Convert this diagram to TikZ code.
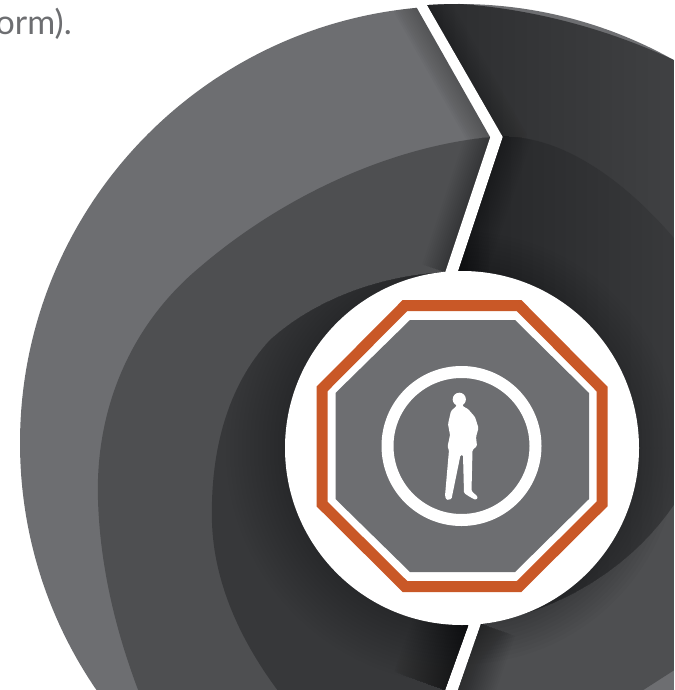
\documentclass[tikz,border=0pt]{standalone}
\usepackage{fontspec}
\setmainfont{Lato}
\definecolor{lightgrey}{HTML}{6D6E71}
\definecolor{midgrey}{HTML}{4E4F51}
\definecolor{innergrey}{HTML}{37383A}
\definecolor{nearblack}{HTML}{1B1C1D}
\definecolor{toplo}{HTML}{2B2C2E}
\definecolor{tophi}{HTML}{414244}
\definecolor{darklo}{HTML}{232426}
\definecolor{darkmidc}{HTML}{28292B}
\definecolor{darkhi}{HTML}{3A3B3D}
\definecolor{rust}{HTML}{C95827}
\tikzset{
  labeltext/.style={text=lightgrey,font=\fontsize{34}{40}\selectfont,inner sep=0pt,anchor=base east},
  ringline/.style={draw=white,line width=12pt,fill=lightgrey},
  personfill/.style={fill=white,draw=none},
  softline/.style={black,opacity=.02,line join=miter}
}
% shadow parallel to a path: #1 = largest width, #2 = path
\newcommand{\edgefade}[2]{\foreach \w in {4,8,...,#1}{\draw[softline,line width=\w pt] #2;}}
% halo round the hub: #1 = last radius, #2 = opacity per step
\newcommand{\hubhalo}[2]{\foreach \r in {180,184,...,#1}{\fill[black,opacity=#2] (hubc) circle (\r);}}
\newcommand{\leftdivider}{(412.3,0) -- (490,137) -- (445,272)}
\newcommand{\lowleftdivider}{(468,626) -- (445,690)}
\newcommand{\rightdivider}{(424.3,0) -- (503,137) -- (458,272)}
\newcommand{\lowrightdivider}{(481,624) -- (458,690)}
\newcommand{\midlayer}{(492,137) .. controls (400,145) and (290,190) .. (200,267)
  .. controls (130,325) and (95,410) .. (98,500) .. controls (100,565) and (115,630) .. (140,695)
  -- (500,695) -- (500,137) -- cycle}
\newcommand{\innerlayer}{(450,272) .. controls (390,274) and (320,295) .. (270,340)
  .. controls (228,385) and (210,450) .. (212,523) .. controls (214,580) and (238,640) .. (285,700)
  -- (490,700) -- (490,272) -- cycle}
\newcommand{\uppertop}{(424,3) .. controls (500,2) and (600,22) .. (690,68) -- (690,420) -- (424,420) -- cycle}
\newcommand{\darkmid}{(503,137) .. controls (560,135) and (630,180) .. (690,258)
  -- (690,478) .. controls (650,555) and (570,612) .. (470,626) -- (440,420) -- (440,137) -- cycle}
\newcommand{\lowgrey}{(440,400) -- (690,400) -- (690,660) -- (620,705) -- (440,705) -- cycle}
\begin{document}
\begin{tikzpicture}[x=1pt,y=-1pt]
\useasboundingbox (0,0) rectangle (674,690);
\coordinate (hubc) at (462,448);
% ---- left half
\begin{scope}
\clip (457,443) circle (437);
\clip (0,0) -- (412.3,0) -- (490,137) -- (445,272) -- (470,450) -- (468,626) -- (445,690) -- (0,690) -- cycle;
\fill[lightgrey] (0,0) rectangle (674,690);
\edgefade{44}{\leftdivider}
\fill[midgrey] \midlayer;
\begin{scope}
\clip \midlayer;
\edgefade{48}{\leftdivider}
\end{scope}
\fill[innergrey] \innerlayer;
\begin{scope}
\clip \innerlayer;
\hubhalo{236}{.012}
\edgefade{108}{\lowleftdivider}
\end{scope}
\end{scope}
% ---- right half
\begin{scope}
\clip (459,443) circle (439);
\clip (424.3,0) -- (674,0) -- (674,690) -- (458,690) -- (481,624) -- (470,450) -- (458,272) -- (503,137) -- cycle;
\fill[lightgrey] (400,0) rectangle (674,690);
\path[left color=toplo,right color=tophi] \uppertop;
\begin{scope}
\clip \uppertop;
\edgefade{44}{\rightdivider}
\end{scope}
\fill[midgrey] \lowgrey;
\begin{scope}
\clip \lowgrey;
\hubhalo{216}{.02}
\edgefade{72}{\lowrightdivider}
\end{scope}
\path[left color=darklo,middle color=darkmidc,right color=darkhi] \darkmid;
\begin{scope}
\clip \darkmid;
\hubhalo{216}{.016}
\edgefade{56}{\rightdivider}
\end{scope}
\end{scope}
% central disc
\node[circle,fill=white,minimum size=354pt,inner sep=0pt] (hub) at (hubc) {};
% octagons
\draw[rust,line width=11pt,miter limit=10] (405,305.5) -- (519,305.5) -- (602,389) -- (602,504) -- (519,586.5) -- (405,586.5) -- (322,504) -- (322,389) -- cycle;
\fill[lightgrey] (410,320) -- (515,320) -- (589,393) -- (589,499) -- (515,572) -- (410,572) -- (335.5,499) -- (335.5,393) -- cycle;
% ring
\node[circle,ringline,minimum size=148pt,inner sep=0pt] (ring) at (461.5,446) {};
% person
\fill[personfill] (459.3,399.3) circle (6.6);
\fill[personfill,rounded corners=1.2pt] (456.5,403) -- (456.5,406) -- (451,411) -- (448,424) -- (450,435) -- (447.5,447) -- (449,450) -- (445,496) -- (446.5,500) -- (451.5,499) -- (460.5,455) -- (463,455) -- (464,493) -- (470,497) -- (476,500) -- (478,497) -- (471.5,491) -- (472.5,450) -- (477,446) -- (476,437) -- (478.5,428) -- (475,417) -- (468,409) -- (462.5,406) -- (462.5,403) -- cycle;
% text
\node[labeltext] (caption) at (72,35) {orm).};
\end{tikzpicture}
\end{document}
